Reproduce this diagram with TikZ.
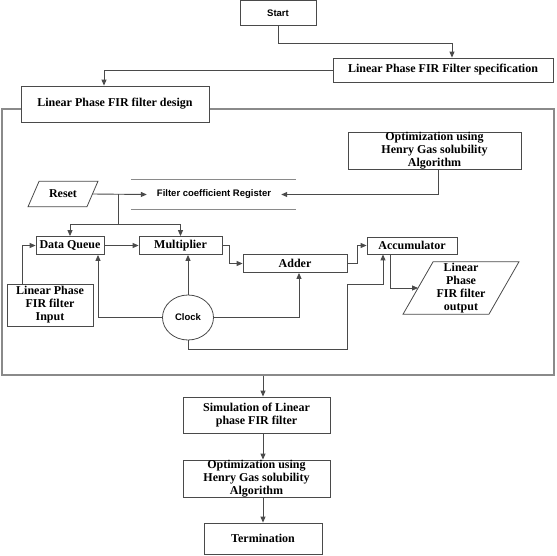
\documentclass[tikz,border=0pt]{standalone}
\usepackage{fontspec}
\setmainfont{Liberation Serif}
\setsansfont{Liberation Sans}
\usetikzlibrary{arrows.meta,positioning,shapes.geometric}
\definecolor{LineGray} {HTML}{4A4A4A}
\definecolor{FrameGray}{HTML}{8A8A8A}
\tikzset{
  pbox/.style={rectangle,draw=LineGray,fill=white,line width=0.8pt,
               inner sep=0pt,align=center,
               font=\fontsize{12}{13}\selectfont\bfseries},
  sbox/.style={rectangle,draw=LineGray,fill=white,line width=0.8pt,
               inner sep=0pt,align=center,
               font=\fontsize{9.5}{11}\selectfont\sffamily\bfseries},
  pgram/.style={rectangle,inner sep=0pt,align=center,
                font=\fontsize{12}{13}\selectfont\bfseries},
  pline/.style={line width=0.8pt,color=LineGray},
  frm/.style={rectangle,draw=FrameGray,line width=1.3pt},
  regline/.style={line width=1pt,color=FrameGray},
  lne/.style={line width=0.9pt,color=LineGray},
  barr/.style={-{Triangle[length=6pt,width=5pt]},line width=0.9pt,color=LineGray},
}

\begin{document}
\begin{tikzpicture}[x=1pt,y=-1pt]
  \useasboundingbox (0,0) rectangle (557,555);

  \node[sbox,minimum width=76pt,minimum height=25pt] (START) at (278,13) {Start};
  \node[pbox,minimum width=220pt,minimum height=24pt] (SPEC) at (443,70)
    {Linear Phase FIR Filter specification};

  \node[frm,minimum width=552pt,minimum height=266pt] (FRAME) at (278,242) {};
  \node[pbox,minimum width=188pt,minimum height=36pt] (DES) at (115,104)
    {Linear Phase FIR filter design};

  \node[pbox,minimum width=173pt,minimum height=36pt] (OPT) at (434.5,151)
    {Optimization using\\Henry Gas solubility\\Algorithm};

  \node[inner xsep=10pt,inner ysep=0pt,minimum height=29pt,
        font=\fontsize{9.5}{11}\selectfont\sffamily\bfseries]
    (REG) at (214,194.5) {Filter coefficient Register};
  \draw[regline] ([xshift=-16pt]REG.north west) -- ([xshift=15pt]REG.north east);
  \draw[regline] ([xshift=-16pt]REG.south west) -- ([xshift=15pt]REG.south east);

  % parallelograms: slanted outline round a plain node
  \node[pgram,minimum width=58.5pt,minimum height=25pt] (RST) at (63,194) {Reset};
  \draw[pline] ([xshift=-5.5pt]RST.south west) -- ([xshift=5.5pt]RST.north west)
    -- ([xshift=5.5pt]RST.north east) -- ([xshift=-5.5pt]RST.south east) -- cycle;

  \node[pbox,minimum width=68pt,minimum height=18pt] (DQ) at (70,245.5) {Data Queue};
  \node[pbox,minimum width=83pt,minimum height=18pt] (MUL) at (180.5,245.5) {Multiplier};
  \node[pbox,minimum width=104pt,minimum height=18pt] (ADD) at (295,263.5) {Adder};
  \node[pbox,minimum width=90pt,minimum height=17pt] (ACC) at (412,245.5) {Accumulator};

  \node[pbox,minimum width=86pt,minimum height=42pt] (INP) at (50,305)
    {Linear Phase\\FIR filter\\Input};
  \node[ellipse,draw=LineGray,line width=0.8pt,minimum width=51pt,minimum height=45pt,
        inner sep=0pt,font=\fontsize{9.5}{11}\selectfont\sffamily\bfseries]
    (CLK) at (188,317.5) {Clock};

  \node[pgram,minimum width=85.5pt,minimum height=52pt] (OUT) at (461,288)
    {Linear\\Phase\\FIR filter\\output};
  \draw[pline] ([xshift=-15pt]OUT.south west) -- ([xshift=15pt]OUT.north west)
    -- ([xshift=15pt]OUT.north east) -- ([xshift=-15pt]OUT.south east) -- cycle;

  \node[pbox,minimum width=147pt,minimum height=36pt] (SIM) at (256.5,415)
    {Simulation of Linear\\phase FIR filter};
  \node[pbox,minimum width=147pt,minimum height=37pt] (OPTB) at (256.5,478.5)
    {Optimization using\\Henry Gas solubility\\Algorithm};
  \node[pbox,minimum width=118pt,minimum height=31pt] (TERM) at (263,538.5) {Termination};

  % top flow
  \draw[barr] (START.south) -- ++(0,18) -| ([xshift=9pt]SPEC.north);
  \draw[barr] (SPEC.west) -| ([xshift=-11pt]DES.north);

  % design block
  \draw[barr] ([xshift=3.5pt]OPT.south) |- (REG.east);
  \draw[barr] (RST.east) -- (REG.west);
  \coordinate (FORK) at (118,224);
  \draw[lne] (FORK |- RST.east) -- (FORK);
  \draw[barr] (FORK) -| (DQ.north);
  \draw[barr] (FORK) -| (MUL.north);
  \draw[barr] (DQ.east) -- (MUL.west);
  \draw[barr] (MUL.east) -- ++(7,0) |- (ADD.west);
  \draw[barr] (ADD.east) -- ++(10,0) |- (ACC.west);
  \draw[barr] ([xshift=-22pt]ACC.south) |- (OUT.west);
  \draw[barr] ([xshift=-28pt]INP.north) |- (DQ.west);

  % clock lines
  \draw[barr] (CLK.west) -| ([xshift=28pt]DQ.south);
  \draw[barr] (CLK.north) -- (CLK.north |- MUL.south);
  \draw[barr] (CLK.east) -| ([xshift=4pt]ADD.south);
  \draw[barr] (CLK.south) -- ++(0,9) -| (347,284) -| ([xshift=-29pt]ACC.south);

  % bottom flow
  \draw[barr] (FRAME.south -| TERM.north) -- (SIM.north -| TERM.north);
  \draw[barr] (SIM.south -| TERM.north) -- (OPTB.north -| TERM.north);
  \draw[barr] (OPTB.south -| TERM.north) -- (TERM.north);

\end{tikzpicture}
\end{document}
